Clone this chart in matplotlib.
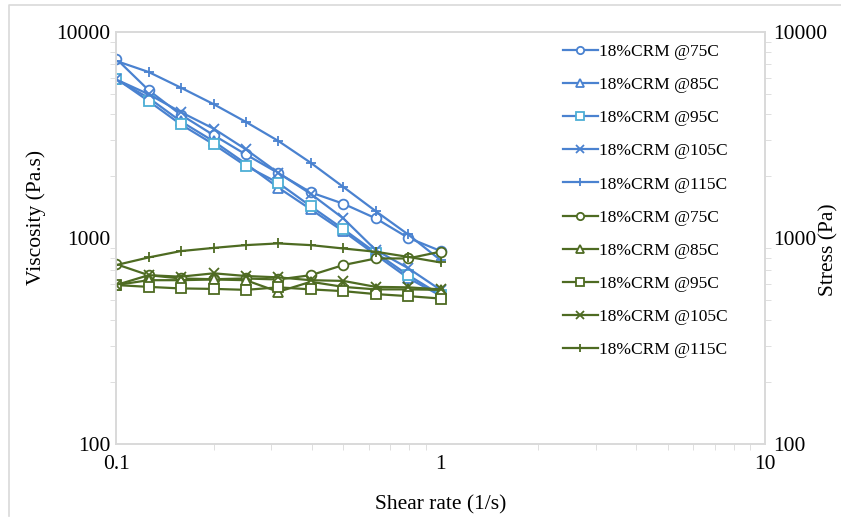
import matplotlib

matplotlib.use("Agg")
import matplotlib.pyplot as plt
from matplotlib.lines import Line2D
from matplotlib import ticker

# shear rate points (1/s), 10 per decade
shear_rate = [0.1, 0.126, 0.158, 0.2, 0.251, 0.316, 0.398, 0.501, 0.631, 0.794, 1.0]

labels = ["18%CRM @75C", "18%CRM @85C", "18%CRM @95C", "18%CRM @105C", "18%CRM @115C"]

# viscosity (Pa.s), left axis
visc_75 = [7450, 5230, 3985, 3160, 2550, 2070, 1668, 1470, 1248, 1004, 866]
visc_85 = [5900, 4800, 3700, 2950, 2300, 1760, 1380, 1080, 830, 640, 525]
visc_95 = [5960, 4630, 3574, 2853, 2244, 1855, 1428, 1107, 850, 661, 530]
visc_105 = [5900, 5000, 4100, 3400, 2700, 2075, 1640, 1248, 875, 715, 560]
visc_115 = [7260, 6410, 5390, 4470, 3670, 2966, 2322, 1774, 1352, 1042, 781]

# stress (Pa), right axis
stress_75 = [748, 661, 637, 632, 637, 630, 661, 740, 797, 797, 860]
stress_85 = [592, 625, 625, 630, 625, 549, 614, 580, 564, 564, 561]
stress_95 = [592, 580, 570, 567, 561, 577, 564, 553, 535, 523, 509]
stress_105 = [592, 661, 650, 675, 655, 645, 625, 620, 580, 577, 564]
stress_115 = [740, 806, 865, 897, 925, 943, 925, 891, 859, 811, 762]

BLUE = "#4A82D0"
CYAN = "#4DAFD6"
GREEN = "#4E6B22"
GRAY = "#D9D9D9"

plt.rcParams["font.family"] = ["Liberation Serif", "DejaVu Serif"]

fig = plt.figure(figsize=(8.41, 5.2), dpi=100)
# chart-area border (right side cropped off in the original)
fig.lines.append(Line2D([1.0, 0.011, 0.011], [0.99, 0.99, 0.008], transform=fig.transFigure,
                        color=GRAY, linewidth=1.2))
ax = fig.add_axes([0.138, 0.146, 0.772, 0.792])
ax2 = ax.twinx()

common = dict(linewidth=1.6, markersize=7, markerfacecolor="white", markeredgewidth=1.3)
visc = [visc_75, visc_85, visc_95, visc_105, visc_115]
stress = [stress_75, stress_85, stress_95, stress_105, stress_115]
markers = ["o", "^", "s", "x", "+"]

handles = []
for vals, m, lab in zip(visc, markers, labels):
    edge = CYAN if m == "s" else BLUE
    h, = ax.plot(shear_rate, vals, color=BLUE, marker=m, markeredgecolor=edge, label=lab, **common)
    handles.append(h)
for vals, m, lab in zip(stress, markers, labels):
    h, = ax2.plot(shear_rate, vals, color=GREEN, marker=m, markeredgecolor=GREEN, label=lab, **common)
    handles.append(h)

for a in (ax, ax2):
    a.set_xscale("log")
    a.set_yscale("log")
    a.set_xlim(0.1, 10)
    a.set_ylim(100, 10000)
    for s in a.spines.values():
        s.set_color(GRAY)
        s.set_linewidth(1.2)
    a.tick_params(which="both", colors=GRAY, labelcolor="black", labelsize=15.5, direction="out")
    a.tick_params(which="major", length=0)
    a.tick_params(which="minor", length=4)
    a.yaxis.set_major_formatter(ticker.FuncFormatter(lambda v, p: f"{v:.0f}"))
    a.yaxis.set_minor_formatter(ticker.NullFormatter())
ax.tick_params(axis="y", pad=4)
ax2.tick_params(axis="y", pad=6)
ax.tick_params(axis="x", pad=8)
ax.xaxis.set_major_formatter(ticker.FuncFormatter(lambda v, p: f"{v:g}"))
ax.xaxis.set_minor_formatter(ticker.NullFormatter())

ax.set_xlabel("Shear rate (1/s)", fontsize=15.5)
ax.xaxis.set_label_coords(0.5, -0.125)
ax.set_ylabel("Viscosity (Pa.s)", fontsize=15.5)
ax.yaxis.set_label_coords(-0.108, 0.55)
ax2.set_ylabel("Stress (Pa)", fontsize=15.5)
ax2.yaxis.set_label_coords(1.083, 0.473)

ax2.legend(handles=handles, loc="upper left", bbox_to_anchor=(0.664, 1.01), frameon=False,
           fontsize=12.5, handlelength=2.0, handletextpad=0.1, labelspacing=0.98, markerscale=0.75)

fig.savefig("out.png", dpi=100)
